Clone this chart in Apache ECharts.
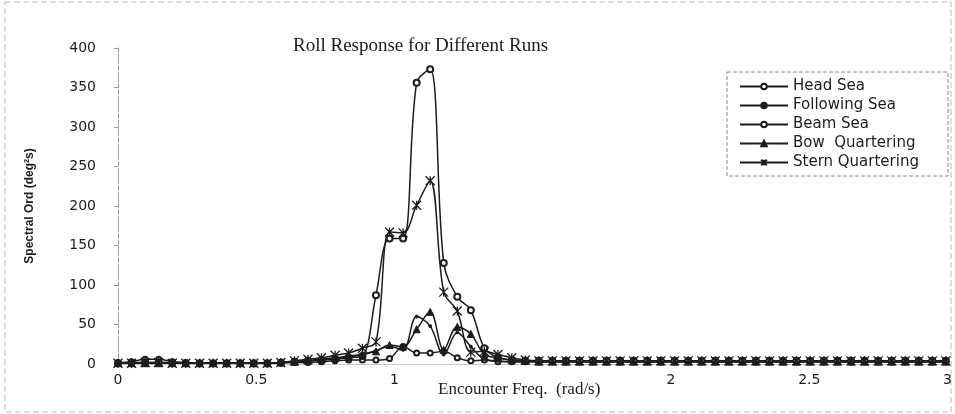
<!DOCTYPE html>
<html>
<head>
<meta charset="utf-8">
<script src="https://cdn.jsdelivr.net/npm/echarts@6/dist/echarts.min.js"></script>
<style>
  html, body { margin: 0; padding: 0; background: #fff; }
  #chart { width: 955px; height: 414px; }
</style>
</head>
<body>
<div id="chart"></div>
<script>
// encounter frequency (rad/s), step ~0.049
const freq = [
  0, 0.049, 0.098, 0.147, 0.196, 0.245, 0.295, 0.344, 0.393, 0.442,
  0.491, 0.540, 0.589, 0.638, 0.687, 0.736, 0.785, 0.834, 0.884, 0.933,
  0.982, 1.031, 1.080, 1.129, 1.178, 1.227, 1.276, 1.325, 1.374, 1.424,
  1.473, 1.522, 1.571, 1.620, 1.669, 1.718, 1.767, 1.816, 1.865, 1.914,
  1.963, 2.013, 2.062, 2.111, 2.160, 2.209, 2.258, 2.307, 2.356, 2.405,
  2.454, 2.503, 2.553, 2.602, 2.651, 2.700, 2.749, 2.798, 2.847, 2.896,
  2.945, 2.994
]

const headSea = [
  2, 3, 6, 6, 3, 2, 1, 1, 1, 1,
  1, 1, 1, 2, 2, 3, 4, 5, 5, 5,
  7, 22, 14, 14, 16, 8, 4, 5, 3, 3,
  3, 3, 3, 3, 3, 3, 3, 3, 3, 3,
  3, 3, 3, 3, 3, 3, 3, 3, 3, 3,
  3, 3, 3, 3, 3, 3, 3, 3, 3, 3,
  3, 3
]
const followingSea = [
  1, 1, 1, 1, 1, 1, 1, 1, 1, 1,
  1, 1, 2, 3, 4, 5, 7, 9, 12, 17,
  22, 18, 60, 48, 12, 40, 22, 6, 4, 3,
  3, 3, 3, 3, 3, 3, 3, 3, 3, 3,
  3, 3, 3, 3, 3, 3, 3, 3, 3, 3,
  3, 3, 3, 3, 3, 3, 3, 3, 3, 3,
  3, 3
]
const beamSea = [
  1, 2, 2, 2, 2, 1, 1, 1, 1, 1,
  1, 1, 2, 3, 4, 5, 6, 8, 10, 87,
  159, 159, 356, 373, 128, 85, 68, 20, 8, 5,
  4, 4, 4, 4, 4, 4, 4, 4, 4, 4,
  4, 4, 4, 4, 4, 4, 4, 4, 4, 4,
  4, 4, 4, 4, 4, 4, 4, 4, 4, 4,
  4, 4
]
const bowQuartering = [
  1, 1, 1, 1, 1, 1, 1, 1, 1, 1,
  1, 1, 2, 3, 4, 6, 8, 10, 12, 16,
  24, 22, 44, 66, 18, 47, 38, 12, 8, 5,
  4, 3, 3, 3, 3, 3, 3, 3, 3, 3,
  3, 3, 3, 3, 3, 3, 3, 3, 3, 3,
  3, 3, 3, 3, 3, 3, 3, 3, 3, 3,
  3, 3
]
const sternQuartering = [
  1, 1, 2, 2, 1, 1, 1, 1, 1, 1,
  1, 1, 2, 4, 6, 8, 11, 14, 20, 28,
  167, 166, 201, 232, 91, 67, 15, 16, 12, 8,
  5, 4, 4, 4, 4, 4, 4, 4, 4, 4,
  4, 4, 4, 4, 4, 4, 4, 4, 4, 4,
  4, 4, 4, 4, 4, 4, 4, 4, 4, 4,
  4, 4
]

const ink = '#1c1c1c'
const asterisk = 'path://M1,0 L9,10 M9,0 L1,10 M5,0 L5,10'

function pairs(values) {
  return freq.map((f, i) => [f, values[i]])
}

function lineSeries(name, values, symbol, size, extra) {
  return Object.assign({
    name,
    type: 'line',
    data: pairs(values),
    smooth: 0.35,
    symbol,
    symbolSize: size,
    showAllSymbol: true,
    lineStyle: { color: ink, width: 1.5 },
    itemStyle: { color: ink, borderColor: ink, borderWidth: 1 },
  }, extra || {})
}

const chart = echarts.init(document.getElementById('chart'))

chart.setOption({
  backgroundColor: '#fff',
  animation: false,
  title: {
    text: 'Roll Response for Different Runs',
    left: 288,
    top: 32,
    textStyle: { fontFamily: 'Liberation Serif', fontWeight: 'normal', fontSize: 19, color: ink },
  },
  legend: {
    orient: 'vertical',
    left: 734,
    top: 74,
    itemWidth: 48,
    itemHeight: 7,
    itemGap: 4,
    textStyle: { fontFamily: 'DejaVu Sans', fontSize: 15, color: ink },
    data: ['Head Sea', 'Following Sea', 'Beam Sea', 'Bow  Quartering', 'Stern Quartering'],
  },
  grid: { left: 118, right: 4, top: 48, bottom: 50 },
  xAxis: {
    type: 'value',
    min: 0,
    max: 3,
    interval: 0.5,
    axisLine: { show: true, lineStyle: { color: '#bbb', type: 'dotted' } },
    axisTick: { show: false },
    splitLine: { show: false },
    axisLabel: {
      margin: 9,
      fontFamily: 'DejaVu Sans',
      fontSize: 14,
      color: ink,
      formatter: (v) => (v === 1.5 ? '' : String(v)),
    },
  },
  yAxis: {
    type: 'value',
    min: 0,
    max: 400,
    interval: 50,
    name: 'Spectral Ord (deg²s)',
    nameLocation: 'middle',
    nameGap: 82,
    nameTextStyle: { fontFamily: 'Liberation Sans', fontSize: 12, fontWeight: 'bold', color: ink },
    axisLine: { show: true, lineStyle: { color: '#999', type: 'dashed' } },
    axisTick: { show: true, length: 4, lineStyle: { color: '#999' } },
    splitLine: { show: false },
    axisLabel: { margin: 22, fontFamily: 'DejaVu Sans', fontSize: 14, color: ink },
  },
  graphic: [
    {
      type: 'rect',
      shape: { x: 5, y: 2, width: 946, height: 410 },
      style: { fill: 'none', stroke: '#bbb', lineWidth: 1, lineDash: [6, 3] },
      silent: true,
    },
    {
      type: 'rect',
      shape: { x: 727, y: 72, width: 221, height: 104 },
      style: { fill: 'none', stroke: '#888', lineWidth: 1, lineDash: [4, 2] },
      silent: true,
    },
    {
      type: 'text',
      left: 438,
      top: 381,
      style: { text: 'Encounter Freq.  (rad/s)', fontFamily: 'Liberation Serif', fontSize: 17, fill: ink },
    },
  ],
  series: [
    lineSeries('Head Sea', headSea, 'emptyCircle', 5),
    lineSeries('Following Sea', followingSea, 'circle', 3),
    lineSeries('Beam Sea', beamSea, 'emptyCircle', 6),
    lineSeries('Bow  Quartering', bowQuartering, 'triangle', 7),
    lineSeries('Stern Quartering', sternQuartering, asterisk, 9, {
      itemStyle: { color: ink, borderColor: ink, borderWidth: 1.3 },
    }),
  ],
})
</script>
</body>
</html>
